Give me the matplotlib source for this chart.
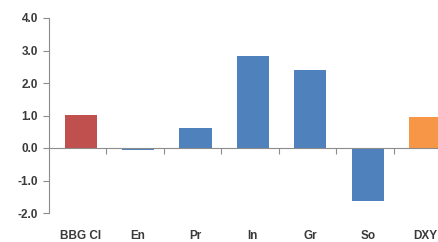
import matplotlib.pyplot as plt
import matplotlib.transforms as mtransforms

categories = ['BBG CI', 'En', 'Pr', 'In', 'Gr', 'So', 'DXY']
values = [1.02, -0.05, 0.62, 2.83, 2.39, -1.64, 0.96]
colors = ['#C0504D', '#4F81BD', '#4F81BD', '#4F81BD', '#4F81BD', '#4F81BD', '#F79646']
yticks = [4.0, 3.0, 2.0, 1.0, 0.0, -1.0, -2.0]

axis_col = '#8C8C8C'
text_col = '#3A3A3A'
plt.rcParams['font.family'] = ['Liberation Sans', 'DejaVu Sans']

fig = plt.figure(figsize=(4.38, 2.42), dpi=100)
# plot area runs past the right edge, as in the cropped original
ax = fig.add_axes([49 / 438, 1 - 213 / 242, 402 / 438, 195 / 242])

x = [i + 0.55 for i in range(len(categories))]
ax.bar(x, values, width=0.56, color=colors, edgecolor='none', zorder=2)

ax.set_xlim(0, len(categories))
ax.set_ylim(-2, 4)
ax.set_yticks(yticks)
ax.set_yticklabels(['%.1f' % v for v in yticks], color=text_col,
                   fontsize=8.5, fontweight='bold')

for s in ['top', 'right']:
    ax.spines[s].set_visible(False)
ax.spines['left'].set_color(axis_col)
ax.spines['bottom'].set_color(axis_col)
ax.spines['bottom'].set_position(('data', 0))
ax.spines['bottom'].set_zorder(3)

ax.tick_params(axis='y', direction='out', length=4, color=axis_col, pad=4)
ax.set_xticks(range(1, len(categories)))
ax.set_xticklabels([])
ax.tick_params(axis='x', direction='out', length=4, color=axis_col)

trans = mtransforms.blended_transform_factory(ax.transData, ax.transAxes)
for xi, lab in zip(x, categories):
    ax.text(xi, -0.118, lab, transform=trans, ha='center', va='center',
            fontsize=8.5, fontweight='bold', color=text_col)

fig.savefig('out.png', dpi=100)
